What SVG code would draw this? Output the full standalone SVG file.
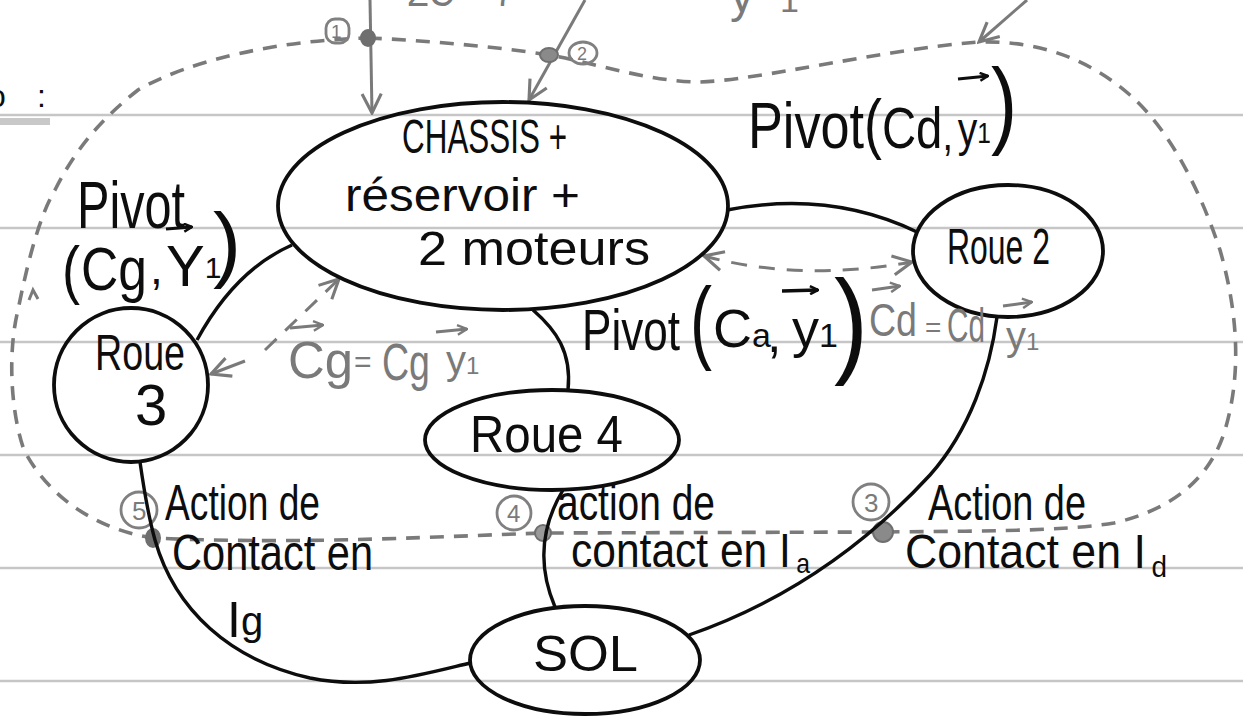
<svg xmlns="http://www.w3.org/2000/svg" width="1243" height="718" viewBox="0 0 1243 718">
<style>
.rule{stroke:#c6c6c6;stroke-width:2.5}
.n{fill:none;stroke:#0d0d0d;stroke-width:3.8}
.e{fill:none;stroke:#0d0d0d;stroke-width:3.4}
.bd{fill:none;stroke:#7a7a7a;stroke-width:3.6;stroke-dasharray:14 10}
.g{fill:none;stroke:#7a7a7a;stroke-width:3}
.gd{fill:none;stroke:#7a7a7a;stroke-width:3;stroke-dasharray:16 12}
.t{font-family:"Liberation Sans",Arial,sans-serif;fill:#0d0d0d}
.tg{font-family:"Liberation Sans",Arial,sans-serif;fill:#7a7a7a}
.num{fill:none;stroke:#808080;stroke-width:2.8}
.dot{fill:#6f6f6f;stroke:#6f6f6f;stroke-width:2}
</style>
<defs>
<marker id="ah" viewBox="0 0 20 20" refX="18" refY="10" markerWidth="24" markerHeight="24" markerUnits="userSpaceOnUse" orient="auto-start-reverse">
<path d="M2,2 L18,10 L2,18" fill="none" stroke="#7a7a7a" stroke-width="2.6"/>
</marker>
<marker id="ahs" viewBox="0 0 20 20" refX="18" refY="10" markerWidth="12" markerHeight="12" markerUnits="userSpaceOnUse" orient="auto">
<path d="M2,2 L18,10 L2,18" fill="none" stroke="#7a7a7a" stroke-width="4"/>
</marker>
<marker id="ahb" viewBox="0 0 20 20" refX="18" refY="10" markerWidth="10" markerHeight="10" markerUnits="userSpaceOnUse" orient="auto">
<path d="M2,2 L18,10 L2,18" fill="none" stroke="#0d0d0d" stroke-width="5"/>
</marker>
</defs>
<rect width="1243" height="718" fill="#ffffff"/>
<g id="rules">
<line class="rule" x1="0" y1="115" x2="1243" y2="115"/>
<line class="rule" x1="0" y1="228" x2="1243" y2="228"/>
<line class="rule" x1="0" y1="342" x2="1243" y2="342"/>
<line class="rule" x1="0" y1="455" x2="1243" y2="455"/>
<line class="rule" x1="0" y1="568" x2="1243" y2="568"/>
<line class="rule" x1="0" y1="681" x2="1243" y2="681"/>
<rect x="0" y="118" width="50" height="7" fill="#9a9a9a" opacity="0.55"/>
</g>
<g id="fragments">
<text class="t" x="-12" y="107" font-size="32">o</text>
<text class="t" x="37" y="107" font-size="32">:</text>
<text class="tg" x="407" y="6" font-size="40" textLength="107" lengthAdjust="spacingAndGlyphs">ΣC = 7</text>
<text class="tg" x="730" y="12" font-size="48">y<tspan dx="26" font-size="34">1</tspan></text>
</g>
<g id="boundary">
<path class="bd" d="M368,38 C420,40 500,47 549,55 C590,62 650,82 700,82 C760,80 880,50 978,42 C1040,40 1090,60 1130,95 C1170,130 1200,190 1220,250 C1240,320 1240,380 1225,430 C1210,480 1170,510 1114,523 C1060,532 960,531 883,532 L543,533 C450,536 300,545 153,538 C100,530 50,500 24,450 C10,410 8,350 18,310 C28,260 40,215 55,190 C75,150 100,120 138,90 C190,60 280,40 368,38 Z"/>
<path class="g" d="M29,300 L33,290 L38,299"/>
<line class="g" x1="370" y1="0" x2="372" y2="113" marker-end="url(#ah)"/>
<line class="g" x1="585" y1="0" x2="529" y2="100" marker-end="url(#ah)"/>
<line class="g" x1="1027" y1="0" x2="979" y2="42" marker-end="url(#ah)"/>
<ellipse class="dot" cx="368" cy="38" rx="7" ry="8"/>
<ellipse cx="549" cy="55" rx="9" ry="7" fill="#8a8a8a" stroke="#6f6f6f" stroke-width="2"/>
<ellipse class="dot" cx="153" cy="538" rx="7" ry="9"/>
<circle cx="543" cy="533" r="8" fill="#9a9a9a" stroke="#6f6f6f" stroke-width="2"/>
<circle cx="883" cy="532" r="10" fill="#8a8a8a" stroke="#6f6f6f" stroke-width="2"/>
<rect class="num" x="326" y="19" width="23" height="24" rx="9"/>
<text class="tg" x="331" y="38" font-size="19">1</text>
<ellipse class="num" cx="583" cy="53" rx="14" ry="11"/>
<text class="tg" x="577" y="60" font-size="18">2</text>
<circle class="num" cx="139" cy="510" r="18"/>
<text class="tg" x="132" y="520" font-size="26">5</text>
<circle class="num" cx="514" cy="513" r="17"/>
<text class="tg" x="507" y="522" font-size="24">4</text>
<circle class="num" cx="871" cy="502" r="18"/>
<text class="tg" x="864" y="512" font-size="26">3</text>
</g>
<g id="connectors">
<path class="e" d="M727,210 Q830,190 917,232"/>
<path class="e" d="M292,245 Q235,270 197,340"/>
<path class="e" d="M533,310 C556,330 572,352 568,390"/>
<path class="e" d="M140,462 C144,490 148,515 155,540 C175,610 230,660 310,678 C370,690 420,675 470,663"/>
<path class="e" d="M563,490 C545,520 535,560 555,607"/>
<path class="e" d="M997,317 C990,370 970,430 930,475 C870,540 790,600 689,635"/>
<line class="g" x1="245" y1="361" x2="211" y2="374" marker-end="url(#ah)"/>
<line class="gd" x1="265" y1="350" x2="339" y2="279" marker-end="url(#ah)"/>
<path class="gd" d="M704,256 Q800,282 912,262" marker-start="url(#ah)" marker-end="url(#ah)"/>
</g>
<g id="node-chassis">
<ellipse class="n" cx="503" cy="206" rx="225" ry="104"/>
<text class="t" x="402" y="153" font-size="48" textLength="165" lengthAdjust="spacingAndGlyphs">CHASSIS +</text>
<text class="t" x="345" y="211" font-size="46" textLength="235" lengthAdjust="spacingAndGlyphs">réservoir +</text>
<text class="t" x="418" y="265" font-size="48" textLength="232" lengthAdjust="spacingAndGlyphs">2 moteurs</text>
</g>
<g id="node-roue2">
<ellipse class="n" cx="1008" cy="251" rx="95" ry="66"/>
<text class="t" x="947" y="264" font-size="50" textLength="103" lengthAdjust="spacingAndGlyphs">Roue 2</text>
</g>
<g id="node-roue3">
<circle class="n" cx="131" cy="385" r="77"/>
<text class="t" x="95" y="370" font-size="50" textLength="90" lengthAdjust="spacingAndGlyphs">Roue</text>
<text class="t" x="135" y="425" font-size="58">3</text>
</g>
<g id="node-roue4">
<ellipse class="n" cx="552" cy="440" rx="127" ry="50"/>
<text class="t" x="470" y="452" font-size="52" textLength="153" lengthAdjust="spacingAndGlyphs">Roue 4</text>
</g>
<g id="node-sol">
<ellipse class="n" cx="585" cy="660" rx="115" ry="54"/>
<text class="t" x="533" y="671" font-size="50" textLength="105" lengthAdjust="spacingAndGlyphs">SOL</text>
</g>
<g id="labels">
<text class="t" x="748" y="148" font-size="64" textLength="269" lengthAdjust="spacingAndGlyphs">Pivot<tspan font-size="66" dy="-2">(</tspan><tspan font-size="58" dy="2">Cd</tspan><tspan font-size="46" dy="2">,</tspan><tspan font-size="48" dx="6" dy="-4">y</tspan><tspan font-size="30" dy="-3">1</tspan><tspan font-size="96" dy="-7">)</tspan></text>
<line x1="958" y1="79" x2="988" y2="76" stroke="#0d0d0d" stroke-width="3" marker-end="url(#ahb)"/>

<text class="t" x="77" y="228" font-size="66" textLength="108" lengthAdjust="spacingAndGlyphs">Pivot</text>
<text class="t" x="62" y="292" font-size="64" textLength="18" lengthAdjust="spacingAndGlyphs">(</text>
<text class="t" x="81" y="290" font-size="62" textLength="66" lengthAdjust="spacingAndGlyphs">Cg</text>
<text class="t" x="150" y="284" font-size="46">,</text>
<text class="t" x="166" y="286" font-size="58">Y<tspan font-size="30" dy="-8">1</tspan></text>
<line x1="166" y1="229" x2="192" y2="227" stroke="#0d0d0d" stroke-width="3" marker-end="url(#ahb)"/>
<text class="t" x="213" y="272" font-size="84" textLength="28" lengthAdjust="spacingAndGlyphs">)</text>

<text class="t" x="582" y="350" font-size="58" textLength="98" lengthAdjust="spacingAndGlyphs">Pivot</text>
<text class="t" x="690" y="352" font-size="92" textLength="22" lengthAdjust="spacingAndGlyphs">(</text>
<text class="t" x="713" y="347" font-size="54">C<tspan font-size="34">a</tspan></text>
<text class="t" x="767" y="352" font-size="52">,</text>
<text class="t" x="792" y="347" font-size="54">y<tspan font-size="34">1</tspan></text>
<line x1="782" y1="291" x2="818" y2="290" stroke="#0d0d0d" stroke-width="3.4" marker-end="url(#ahb)"/>
<text class="t" x="834" y="362" font-size="116" textLength="34" lengthAdjust="spacingAndGlyphs">)</text>

<text class="tg" x="288" y="378" font-size="52" textLength="65" lengthAdjust="spacingAndGlyphs">Cg</text>
<text class="tg" x="354" y="372" font-size="30">=</text>
<text class="tg" x="382" y="380" font-size="52" textLength="48" lengthAdjust="spacingAndGlyphs">Cg</text>
<text class="tg" x="446" y="374" font-size="40">y<tspan font-size="24">1</tspan></text>
<line class="g" x1="290" y1="328" x2="323" y2="325" marker-end="url(#ahs)"/>
<line class="g" x1="436" y1="332" x2="467" y2="329" marker-end="url(#ahs)"/>

<text class="tg" x="869" y="336" font-size="46" textLength="48" lengthAdjust="spacingAndGlyphs">Cd</text>
<text class="tg" x="925" y="337" font-size="28">=</text>
<text class="tg" x="947" y="342" font-size="48" textLength="38" lengthAdjust="spacingAndGlyphs">Cd</text>
<text class="tg" x="1006" y="350" font-size="40">y<tspan font-size="24">1</tspan></text>
<line class="g" x1="872" y1="290" x2="900" y2="286" marker-end="url(#ahs)"/>
<line class="g" x1="1003" y1="306" x2="1032" y2="302" marker-end="url(#ahs)"/>

<text class="t" x="165" y="520" font-size="50" textLength="155" lengthAdjust="spacingAndGlyphs">Action de</text>
<text class="t" x="172" y="570" font-size="50" textLength="201" lengthAdjust="spacingAndGlyphs">Contact en</text>
<text class="t" x="227" y="637" font-size="50">I<tspan font-size="40" dy="-2">g</tspan></text>

<text class="t" x="557" y="520" font-size="50" textLength="158" lengthAdjust="spacingAndGlyphs">action de</text>
<text class="t" x="571" y="567" font-size="48" textLength="239" lengthAdjust="spacingAndGlyphs">contact en I<tspan font-size="28" dx="6" dy="6">a</tspan></text>

<text class="t" x="928" y="520" font-size="50" textLength="158" lengthAdjust="spacingAndGlyphs">Action de</text>
<text class="t" x="905" y="568" font-size="48" textLength="262" lengthAdjust="spacingAndGlyphs">Contact en I<tspan font-size="30" dx="6" dy="9">d</tspan></text>
</g>
</svg>
